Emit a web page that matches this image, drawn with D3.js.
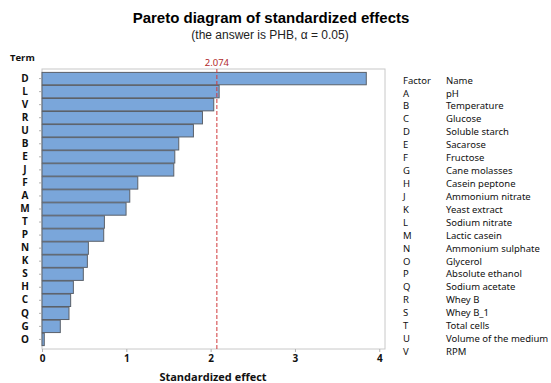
<!DOCTYPE html>
<html>
<head>
<meta charset="utf-8">
<script src="https://cdn.jsdelivr.net/npm/d3@7"></script>
<style>
  body { margin: 0; background: #fff; }
  svg { display: block; }
</style>
</head>
<body>
<svg id="chart" width="551" height="383"></svg>
<script>
// terms sorted by effect, largest first
const terms = ['D','L','V','R','U','B','E','J','F','A','M','T','P','N','K','S','H','C','Q','G','O']
const effects = [3.846, 2.101, 2.037, 1.903, 1.796, 1.622, 1.575, 1.563, 1.136, 1.041, 0.997, 0.740, 0.732, 0.550, 0.538, 0.490, 0.372, 0.340, 0.320, 0.217, 0.027]
const xTicks = [0, 1, 2, 3, 4]
const criticalValue = 2.074

const factors = ['A','B','C','D','E','F','G','H','J','K','L','M','N','O','P','Q','R','S','T','U','V']
const factorNames = ['pH','Temperature','Glucose','Soluble starch','Sacarose','Fructose','Cane molasses',
  'Casein peptone','Ammonium nitrate','Yeast extract','Sodium nitrate','Lactic casein','Ammonium sulphate',
  'Glycerol','Absolute ethanol','Sodium acetate','Whey B','Whey B_1','Total cells','Volume of the medium','RPM']

const svg = d3.select('#chart')
const plot = {left: 42, right: 385, top: 69, bottom: 349}

const x = d3.scaleLinear()
.domain([0, 4.068])
.range([plot.left, plot.right])

const y = d3.scaleBand()
.domain(terms)
.range([plot.top + 3, plot.bottom - 3])
.paddingInner(0.05)
.paddingOuter(0.03)

// title
svg.append('text')
.attr('x', 271).attr('y', 23)
.attr('text-anchor', 'middle')
.style('font', 'bold 15px "Liberation Sans", Arial, sans-serif')
.style('fill', '#000')
.text('Pareto diagram of standardized effects')

svg.append('text')
.attr('x', 270).attr('y', 38.5)
.attr('text-anchor', 'middle')
.style('font', '12px "Liberation Sans", Arial, sans-serif')
.style('fill', '#222')
.text('(the answer is PHB, α = 0.05)')

// frame
svg.append('rect')
.attr('x', plot.left).attr('y', plot.top)
.attr('width', plot.right - plot.left)
.attr('height', plot.bottom - plot.top)
.attr('fill', 'none')
.attr('stroke', '#c8c8c8')
.attr('stroke-width', 1)

// bars
svg.append('g')
.selectAll('rect')
.data(terms)
.enter()
.append('rect')
.attr('x', x(0))
.attr('y', d => y(d))
.attr('width', (d, i) => x(effects[i]) - x(0))
.attr('height', y.bandwidth())
.attr('fill', '#7aa6da')
.attr('stroke', '#5a6069')
.attr('stroke-width', 1)

// reference line
svg.append('line')
.attr('x1', x(criticalValue)).attr('x2', x(criticalValue))
.attr('y1', plot.top).attr('y2', plot.bottom)
.attr('stroke', '#d0393b')
.attr('stroke-width', 1)
.attr('stroke-dasharray', '4,2')

svg.append('text')
.attr('x', x(criticalValue)).attr('y', 66)
.attr('text-anchor', 'middle')
.style('font', '9.5px "Noto Sans", sans-serif')
.style('fill', '#b02a2a')
.text(criticalValue.toFixed(3))

// y axis
const yAxis = svg.append('g')
.attr('transform', `translate(${plot.left - 1},0)`)
.call(d3.axisLeft(y).tickSize(2).tickPadding(14))
yAxis.select('.domain').remove()
yAxis.selectAll('line').attr('stroke', '#b0b0b0')
yAxis.selectAll('text')
.attr('text-anchor', 'middle')
.style('font', 'bold 10px "Open Sans", sans-serif')
.style('fill', '#111')

svg.append('text')
.attr('x', 10).attr('y', 61)
.style('font', 'bold 9.5px "Open Sans", sans-serif')
.style('fill', '#111')
.text('Term')

// x axis
const xAxis = svg.append('g')
.attr('transform', `translate(0,${plot.bottom})`)
.call(d3.axisBottom(x).tickValues(xTicks).tickSize(3).tickPadding(3).tickFormat(d3.format('d')))
xAxis.select('.domain').remove()
xAxis.selectAll('line').attr('stroke', '#b0b0b0')
xAxis.selectAll('text')
.style('font', 'bold 10px "Open Sans", sans-serif')
.style('fill', '#111')

svg.append('text')
.attr('x', 213).attr('y', 381)
.attr('text-anchor', 'middle')
.style('font', 'bold 11px "Open Sans", sans-serif')
.style('fill', '#111')
.text('Standardized effect')

// factor legend
const legend = svg.append('g')
.style('font', '9.5px "Noto Sans", sans-serif')
.style('fill', '#111')

legend.append('text').attr('x', 403).attr('y', 84).text('Factor')
legend.append('text').attr('x', 446).attr('y', 84).text('Name')

const rowY = d3.scalePoint()
.domain(factors)
.range([96.5, 355])

legend.selectAll('.fac')
.data(factors)
.enter()
.append('text')
.attr('class', 'fac')
.attr('x', 403)
.attr('y', d => rowY(d))
.text(d => d)

legend.selectAll('.nm')
.data(factors)
.enter()
.append('text')
.attr('class', 'nm')
.attr('x', 446)
.attr('y', d => rowY(d))
.text((d, i) => factorNames[i])
</script>
</body>
</html>
